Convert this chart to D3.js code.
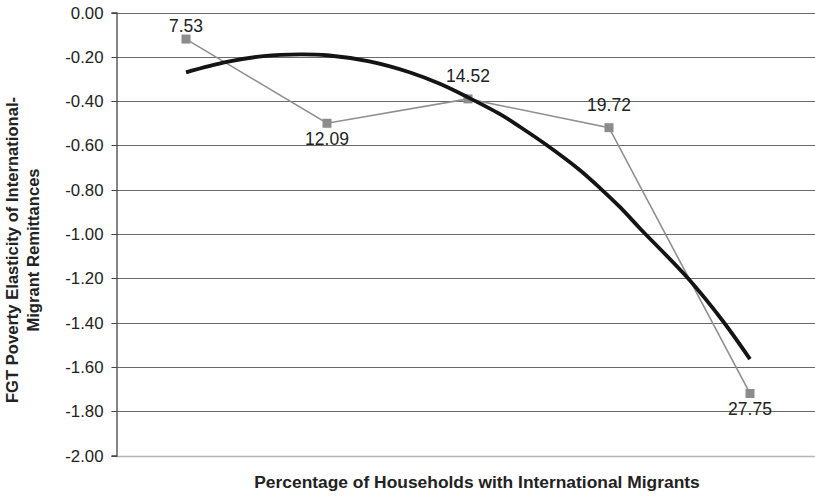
<!DOCTYPE html>
<html>
<head>
<meta charset="utf-8">
<script src="https://cdn.jsdelivr.net/npm/d3@7"></script>
<style>
  html, body { margin: 0; padding: 0; background: #fff; }
  svg { display: block; font-family: "Liberation Sans", Arial, sans-serif; }
</style>
</head>
<body>
<svg id="chart" width="815" height="499"></svg>
<script>
// Share of households with international migrants (category labels)
const categories = ["7.53", "12.09", "14.52", "19.72", "27.75"];
// FGT poverty elasticity of international remittances
const elasticity = [-0.12, -0.50, -0.39, -0.52, -1.72];
// Where each data label sits relative to its marker
const labelSide = ["above", "below", "above", "above", "below"];
// Polynomial trend line, sampled along the category positions
const trendPos = [0, 0.29, 0.55, 0.81, 1.0, 1.30, 1.59, 1.80, 2.0, 2.23, 2.37, 2.55, 2.79, 2.94, 3.08, 3.22, 3.56, 3.81, 4.0];
const trendVal = [-0.27, -0.223, -0.197, -0.189, -0.193, -0.221, -0.271, -0.322, -0.383, -0.46, -0.517, -0.595, -0.71, -0.795, -0.88, -0.975, -1.20, -1.395, -1.565];
// Value axis ticks
const yTicks = [0, -0.2, -0.4, -0.6, -0.8, -1.0, -1.2, -1.4, -1.6, -1.8, -2.0];

const svg = d3.select("#chart");
const plot = { left: 116, right: 820.5, top: 12.5, bottom: 455.5 };

const x = d3.scaleLinear().domain([-0.5, categories.length - 0.5]).range([plot.left - 0.5, plot.right]);
const y = d3.scaleLinear().domain([-2, 0]).range([plot.bottom, plot.top]);

// Horizontal gridlines
svg.append("g")
  .selectAll("line")
  .data(yTicks)
  .join("line")
  .attr("x1", plot.left).attr("x2", 815)
  .attr("y1", d => Math.round(y(d)) + 0.5).attr("y2", d => Math.round(y(d)) + 0.5)
  .attr("stroke", d => d === -2 ? "#b5b5b5" : "#6a6a6a")
  .attr("stroke-width", d => d === -2 ? 1.5 : 1);

// Value axis
const yAxis = d3.axisLeft(y)
  .tickValues(yTicks)
  .tickSize(5)
  .tickPadding(8)
  .tickFormat(d3.format(".2f"));
const gy = svg.append("g").attr("transform", `translate(${plot.left + 0.5},0)`).call(yAxis);
gy.select(".domain").attr("stroke", "#444").attr("stroke-width", 1.3);
gy.selectAll(".tick line").attr("stroke", "#444");
gy.selectAll(".tick").attr("transform", d => `translate(0,${Math.round(y(d)) + 0.5})`);
gy.selectAll(".tick text")
  .attr("font-size", 16.8)
  .attr("fill", "#222")
  .attr("font-family", "Liberation Sans, Arial, sans-serif")
  .text(d => d === 0 ? "0.00" : d3.format(".2f")(d).replace("−", "-"));

// Observed elasticities: gray line with square markers
const pts = elasticity.map((v, i) => ({ i, v, label: categories[i], side: labelSide[i] }));
svg.append("path")
  .datum(pts)
  .attr("fill", "none")
  .attr("stroke", "#8f8f8f")
  .attr("stroke-width", 1.6)
  .attr("d", d3.line().x(d => x(d.i)).y(d => y(d.v)));

svg.append("g")
  .selectAll("rect")
  .data(pts)
  .join("rect")
  .attr("x", d => x(d.i) - 4.5)
  .attr("y", d => y(d.v) - 4.5)
  .attr("width", 9).attr("height", 9)
  .attr("fill", "#8c8c8c");

// Polynomial trend line
const trend = trendPos.map((p, k) => ({ p, v: trendVal[k] }));
svg.append("path")
  .datum(trend)
  .attr("fill", "none")
  .attr("stroke", "#141414")
  .attr("stroke-width", 3.8)
  .attr("stroke-linecap", "butt")
  .attr("d", d3.line().curve(d3.curveCatmullRom).x(d => x(d.p)).y(d => y(d.v)));

// Data labels (kept inside the plot area at the top)
svg.append("g")
  .selectAll("text")
  .data(pts)
  .join("text")
  .attr("x", d => x(d.i))
  .attr("y", d => d.side === "above" ? Math.max(y(d.v) - 17, plot.top + 19.5) : y(d.v) + 22)
  .attr("text-anchor", "middle")
  .attr("font-size", 17.5)
  .attr("fill", "#222")
  .text(d => d.label);

// Axis titles
svg.append("text")
  .attr("x", 477)
  .attr("y", 488)
  .attr("text-anchor", "middle")
  .attr("font-size", 17.4)
  .attr("font-weight", "bold")
  .attr("fill", "#222")
  .text("Percentage of Households with International Migrants");

const yTitle = svg.append("text")
  .attr("transform", "translate(18,250) rotate(-90)")
  .attr("text-anchor", "middle")
  .attr("font-size", 16.6)
  .attr("font-weight", "bold")
  .attr("fill", "#222");
yTitle.append("tspan").attr("x", 0).attr("y", 0).text("FGT Poverty Elasticity of International-");
yTitle.append("tspan").attr("x", 0).attr("y", 20.5).text("Migrant Remittances");
</script>
</body>
</html>
